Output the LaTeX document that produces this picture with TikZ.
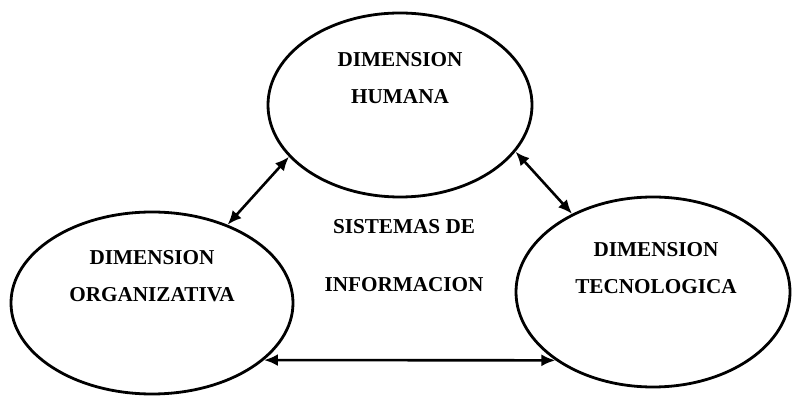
\documentclass[tikz,border=0pt]{standalone}
\usepackage{fontspec}
\setmainfont{Liberation Serif}
\usepackage{tikz}
\usetikzlibrary{shapes.geometric,arrows.meta}

\begin{document}
\begin{tikzpicture}[x=0.5pt,y=0.5pt,
    dimension/.style={draw, ellipse, line width=1.4pt, inner sep=0pt},
    dimtext/.style={align=center, font=\fontsize{10.6}{18.5}\selectfont\bfseries},
    link/.style={{Latex[length=7pt,width=6pt]}-{Latex[length=7pt,width=6pt]}, line width=1.3pt}]
      \useasboundingbox (0,0) rectangle (792,396);

      % the three dimensions
      \node[dimension, minimum width=264pt*0.5, minimum height=184pt*0.5] (hum) at (400,291) {};
      \node[dimension, minimum width=282pt*0.5, minimum height=182pt*0.5] (org) at (152,93) {};
      \node[dimension, minimum width=274pt*0.5, minimum height=190pt*0.5] (tec) at (653,104) {};

      % labels
      \node[dimtext] (humtxt) at (400,317.5) {DIMENSION\\HUMANA};
      \node[dimtext] (orgtxt) at (152,119.5) {DIMENSION\\ORGANIZATIVA};
      \node[dimtext] (tectxt) at (656,127.5) {DIMENSION\\TECNOLOGICA};
      \node[dimtext, font=\fontsize{10.6}{29}\selectfont\bfseries] (sis) at (404,140) {SISTEMAS DE\\INFORMACION};

      % links
      \draw[link] (hum.205.3) -- (org.46.5);
      \draw[link] (hum.338.3) -- (tec.136.1);
      \draw[link] (org.-27.4) -- (tec.215.3);
    \end{tikzpicture}
\end{document}
